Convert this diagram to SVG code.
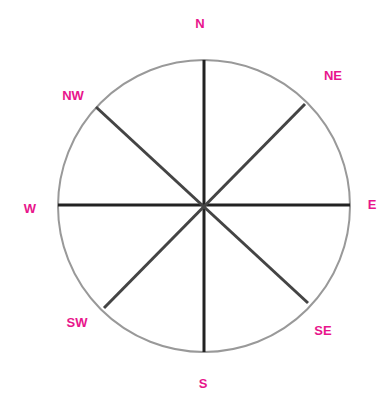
<svg xmlns="http://www.w3.org/2000/svg" width="381" height="403" viewBox="0 0 381 403">
<style>
.ln{stroke:#222;stroke-width:3;fill:none}
.dg{stroke:#444;stroke-width:3;fill:none}
.lb{font-family:"Liberation Sans",Arial,sans-serif;font-size:13px;fill:#e8158c;text-anchor:middle;font-weight:bold}
</style>
<rect width="381" height="403" fill="#fff"/>
<circle cx="204" cy="206" r="146" fill="none" stroke="#999" stroke-width="2"/>
<g id="connectors">
<line class="ln" x1="204" y1="60" x2="204" y2="352"/>
<line class="ln" x1="58" y1="205" x2="350" y2="205"/>
<line class="dg" x1="96" y1="107" x2="308" y2="303"/>
<line class="dg" x1="305" y1="104" x2="104" y2="308"/>
</g>
<g id="n"><text class="lb" x="200" y="28">N</text></g>
<g id="ne"><text class="lb" x="333" y="80">NE</text></g>
<g id="e"><text class="lb" x="372" y="209">E</text></g>
<g id="se"><text class="lb" x="323" y="335">SE</text></g>
<g id="s"><text class="lb" x="203" y="388">S</text></g>
<g id="sw"><text class="lb" x="77" y="327">SW</text></g>
<g id="w"><text class="lb" x="30" y="213">W</text></g>
<g id="nw"><text class="lb" x="73" y="100">NW</text></g>
</svg>
